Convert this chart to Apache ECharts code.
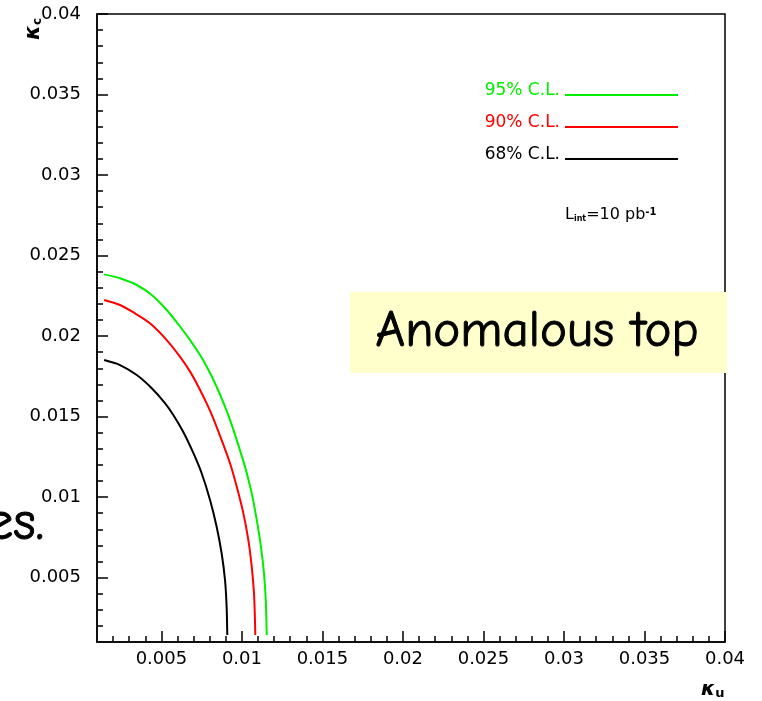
<!DOCTYPE html>
<html>
<head>
<meta charset="utf-8">
<script src="https://cdn.jsdelivr.net/npm/echarts@6/dist/echarts.min.js"></script>
<style>html,body{margin:0;padding:0;background:#fff}#c{width:762px;height:701px}</style>
</head>
<body>
<div id="c"></div>
<script>
// ---- data ----
const kappaU95 = [0.00144,0.00243,0.00347,0.00440,0.00533,0.00612,0.00678,0.00740,0.00795,0.00843,0.00895,0.00926,0.00968,0.01019,0.01061,0.01092,0.01118,0.01137,0.01148,0.01154];
const kappaC95 = [0.02383,0.02359,0.02317,0.02255,0.02162,0.02064,0.01975,0.01882,0.01785,0.01685,0.01561,0.01479,0.01354,0.01189,0.01023,0.00858,0.00692,0.00527,0.00361,0.00144];
const kappaU90 = [0.00144,0.00243,0.00336,0.00429,0.00533,0.00615,0.00678,0.00729,0.00781,0.00822,0.00874,0.00926,0.00968,0.01009,0.01040,0.01061,0.01075,0.01081,0.01083];
const kappaC90 = [0.02224,0.02193,0.02141,0.02079,0.01975,0.01872,0.01779,0.01687,0.01582,0.01489,0.01354,0.01210,0.01064,0.00899,0.00733,0.00568,0.00402,0.00237,0.00144];
const kappaU68 = [0.00144,0.00243,0.00347,0.00440,0.00522,0.00574,0.00636,0.00698,0.00750,0.00802,0.00843,0.00874,0.00895,0.00905,0.00909];
const kappaC68 = [0.01851,0.01820,0.01758,0.01676,0.01584,0.01510,0.01404,0.01274,0.01148,0.00982,0.00816,0.00651,0.00485,0.00319,0.00144];
const seriesNames = ['95% C.L.', '90% C.L.', '68% C.L.'];
const majorTicks = [0.005,0.01,0.015,0.02,0.025,0.03,0.035,0.04];
const axisMin = 0.001, axisMax = 0.04;
const minorTicks = [];
for (let i = 2; i < 40; i++) if (i % 5 !== 0) minorTicks.push(i / 1000);

const zip = (a, b) => a.map((v, i) => [v, b[i]]);
const colors = ['#00ee00', '#ff0000', '#000000'];
const FONT = 'DejaVu Sans';
const COMIC = 'Comic Sans MS, Comic Neue, ' + FONT;
const fmt = v => String(+v.toFixed(3));

const chart = echarts.init(document.getElementById('c'), null, {renderer: 'canvas'});

function axisPair(dim) {
  const base = {
    type: 'value', min: axisMin, max: axisMax, gridIndex: 0,
    position: dim === 'x' ? 'bottom' : 'left',
    splitLine: {show: false}
  };
  return [
    Object.assign({}, base, {
      axisLine: {show: true, lineStyle: {color: '#000', width: 1.5}},
      axisTick: {show: true, inside: true, length: 11, customValues: majorTicks, lineStyle: {color: '#000', width: 1.5}},
      axisLabel: {show: true, customValues: majorTicks, formatter: fmt, color: '#000',
        fontFamily: FONT, fontSize: 18, margin: dim === 'x' ? 8 : 16}
    }),
    Object.assign({}, base, {
      axisLine: {show: false},
      axisTick: {show: true, inside: true, length: 6, customValues: minorTicks, lineStyle: {color: '#000', width: 1.5}},
      axisLabel: {show: false}
    })
  ];
}

const datasets = [zip(kappaU95, kappaC95), zip(kappaU90, kappaC90), zip(kappaU68, kappaC68)];

chart.setOption({
  backgroundColor: '#fff',
  animation: false,
  grid: {left: 97, top: 14, width: 628, height: 628, show: true, borderColor: '#000', borderWidth: 1.5, backgroundColor: 'transparent'},
  xAxis: axisPair('x'),
  yAxis: axisPair('y'),
  legend: {
    orient: 'vertical', right: 79, top: 77, align: 'right',
    itemWidth: 113, itemHeight: 13, itemGap: 15,
    icon: 'path://M0,0 L113,0 L113,0.001 Z M0,10 L113,10 L113,12 L0,12 Z M0,13 L113,13 L113,13.001 Z',
    data: seriesNames.map((n, i) => ({name: n, textStyle: {color: colors[i]}})),
    textStyle: {fontFamily: FONT, fontSize: 17}
  },
  series: datasets.map((d, i) => ({
    name: seriesNames[i], type: 'line', data: d, xAxisIndex: 0, yAxisIndex: 0,
    showSymbol: false, symbol: 'none', smooth: 0.3,
    lineStyle: {color: colors[i], width: 2}, itemStyle: {color: colors[i]}
  })),
  graphic: [
    {type: 'text', x: 565, y: 223, z: 100,
      style: {text: '{l|L}{s|int}{l|=10 pb}{p|-1}', textVerticalAlign: 'bottom',
        rich: {l: {fontFamily: FONT, fontSize: 16, fill: '#000', verticalAlign: 'bottom'},
               s: {fontFamily: FONT, fontSize: 8, fontWeight: 'bold', fill: '#000', verticalAlign: 'bottom'},
               p: {fontFamily: FONT, fontSize: 10, fontWeight: 'bold', fill: '#000', verticalAlign: 'top'}}}},
    {type: 'text', x: 44, y: 40, rotation: Math.PI / 2, z: 100,
      style: {text: '{k|κ}{s|c}', textVerticalAlign: 'bottom',
        rich: {k: {fontFamily: FONT, fontSize: 21, fontStyle: 'italic', fontWeight: 'bold', fill: '#000', verticalAlign: 'top'},
               s: {fontFamily: FONT, fontSize: 12, fontWeight: 'bold', fill: '#000', verticalAlign: 'bottom'}}}},
    {type: 'text', x: 701, y: 700, z: 100,
      style: {text: '{k|κ}{s|u}', textVerticalAlign: 'bottom',
        rich: {k: {fontFamily: FONT, fontSize: 20, fontStyle: 'italic', fontWeight: 'bold', fill: '#000', verticalAlign: 'top'},
               s: {fontFamily: FONT, fontSize: 13, fontWeight: 'bold', fill: '#000', verticalAlign: 'bottom'}}}},
    {type: 'rect', z: 100, shape: {x: 350, y: 292, width: 377, height: 81}, style: {fill: '#ffffcc'}},
    {type: 'text', z: 101, x: 537, y: 332,
      style: {text: 'Anomalous top', textAlign: 'center', textVerticalAlign: 'middle',
        fontFamily: COMIC, fontSize: 51, fill: '#000', stroke: '#000', lineWidth: 1}},
    {type: 'text', z: 101, x: 44, y: 524,
      style: {text: 'es.', textAlign: 'right', textVerticalAlign: 'middle',
        fontFamily: COMIC, fontSize: 54, fill: '#000', stroke: '#000', lineWidth: 1}}
  ]
});
</script>
</body>
</html>
